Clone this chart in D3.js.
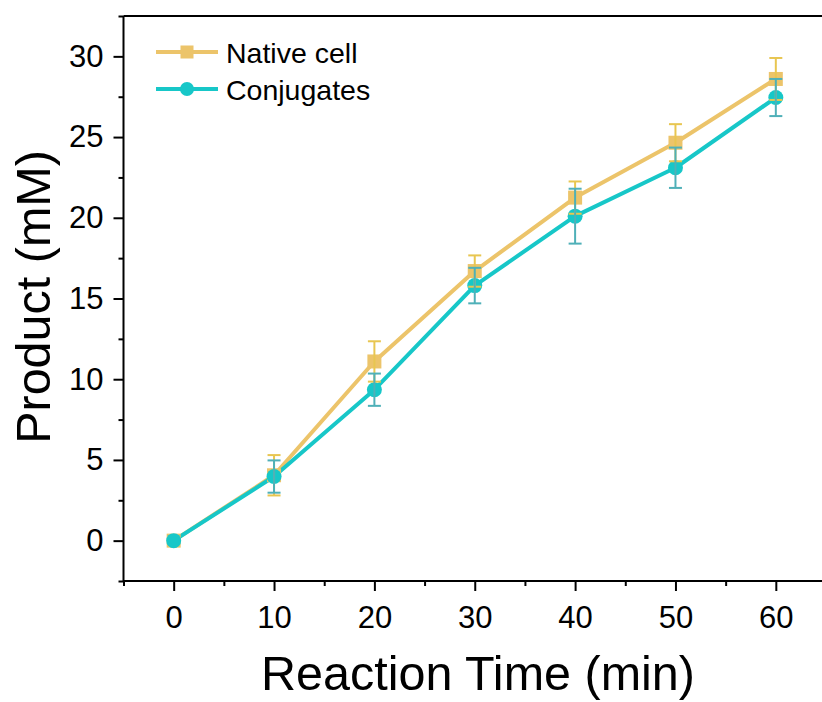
<!DOCTYPE html>
<html>
<head>
<meta charset="utf-8">
<script src="https://cdn.jsdelivr.net/npm/d3@7"></script>
<style>
  body { margin: 0; background: #fff; }
  svg { font-family: "Liberation Sans", Arial, sans-serif; }
</style>
</head>
<body>
<svg id="chart"></svg>
<script>
// data
const times = [0, 10, 20, 30, 40, 50, 60];
const nativeVals = [0, 4.05, 11.1, 16.7, 21.25, 24.65, 28.6];
const nativeErr = [0.2, 1.25, 1.25, 0.97, 1.0, 1.15, 1.3];
const conjVals = [0, 3.97, 9.35, 15.8, 20.1, 23.1, 27.45];
const conjErr = [0.1, 1.0, 1.0, 1.1, 1.7, 1.25, 1.15];
const xTicks = [0, 10, 20, 30, 40, 50, 60];
const yTicks = [0, 5, 10, 15, 20, 25, 30];
const seriesNames = ['Native cell', 'Conjugates'];

const width = 822, height = 702;
const margin = {left: 123.5, right: 826, top: 16, bottom: 581};

const svg = d3.select('#chart')
    .attr('width', width)
    .attr('height', height);

const x = d3.scaleLinear().domain([-5, 65]).range([margin.left, margin.right]);
const y = d3.scaleLinear().domain([-2.5, 32.5]).range([margin.bottom, margin.top]);

const series = [
  {name: seriesNames[0], vals: nativeVals, err: nativeErr, color: '#ecc46a', errColor: '#e8c651', shape: 'square'},
  {name: seriesNames[1], vals: conjVals, err: conjErr, color: '#17c7c8', errColor: '#4fb0b8', shape: 'circle'}
];

// top frame line
svg.append('line')
    .attr('x1', margin.left).attr('x2', width + 5)
    .attr('y1', margin.top).attr('y2', margin.top)
    .attr('stroke', '#000').attr('stroke-width', 2);

// axes
const xAxis = d3.axisBottom(x).tickValues(xTicks).tickSize(10).tickPadding(15).tickSizeOuter(0);
const xMinor = d3.axisBottom(x).tickValues([-5, 5, 15, 25, 35, 45, 55]).tickSize(5).tickFormat('').tickSizeOuter(0);
const yAxis = d3.axisLeft(y).tickValues(yTicks).tickSize(10).tickPadding(10).tickSizeOuter(0);
const yMinor = d3.axisLeft(y).tickValues([-2.5, 2.5, 7.5, 12.5, 17.5, 22.5, 27.5, 32.5]).tickSize(5).tickFormat('').tickSizeOuter(0);

const gx = svg.append('g').attr('transform', `translate(0,${margin.bottom})`).call(xAxis);
svg.append('g').attr('transform', `translate(0,${margin.bottom})`).call(xMinor).select('.domain').remove();
const gy = svg.append('g').attr('transform', `translate(${margin.left},0)`).call(yAxis);
svg.append('g').attr('transform', `translate(${margin.left},0)`).call(yMinor).select('.domain').remove();

gx.select('.domain').attr('d', `M${margin.left},0H${width + 5}`);
gy.select('.domain').attr('d', `M0,${margin.bottom}V${margin.top}`);

svg.selectAll('.domain').attr('stroke-width', 2);
svg.selectAll('.tick line').attr('stroke-width', 2);
svg.selectAll('.tick text')
    .attr('font-size', 31)
    .attr('fill', '#000')
    .attr('font-family', '"Liberation Sans", Arial, sans-serif');

// axis titles
svg.append('text')
    .attr('x', 478).attr('y', 690)
    .attr('text-anchor', 'middle')
    .attr('font-size', 48.5)
    .text('Reaction Time (min)');

svg.append('text')
    .attr('transform', `translate(50,297) rotate(-90)`)
    .attr('text-anchor', 'middle')
    .attr('font-size', 48.5)
    .text('Product (mM)');

// lines
const line = d3.line().x(d => x(d[0])).y(d => y(d[1]));
series.forEach(s => {
  svg.append('path')
      .datum(times.map((t, i) => [t, s.vals[i]]))
      .attr('d', line)
      .attr('fill', 'none')
      .attr('stroke', s.color)
      .attr('stroke-width', 4)
      .attr('stroke-linejoin', 'round');
});

// markers
function drawMarker(g, s, cx, cy, size) {
  if (s.shape === 'square') {
    g.append('rect')
        .attr('x', cx - size / 2).attr('y', cy - size / 2)
        .attr('width', size).attr('height', size)
        .attr('fill', s.color);
  } else {
    g.append('circle')
        .attr('cx', cx).attr('cy', cy).attr('r', size / 2 + 0.5)
        .attr('fill', s.color);
  }
}

series.forEach(s => {
  const g = svg.append('g');
  times.forEach((t, i) => drawMarker(g, s, x(t), y(s.vals[i]), 14));
});

// error bars on top
series.forEach(s => {
  const g = svg.append('g').attr('stroke', s.errColor).attr('stroke-width', 2);
  times.forEach((t, i) => {
    if (s.err[i] < 0.3) return;
    const cx = x(t), y0 = y(s.vals[i] - s.err[i]), y1 = y(s.vals[i] + s.err[i]);
    g.append('line').attr('x1', cx).attr('x2', cx).attr('y1', y0).attr('y2', y1);
    g.append('line').attr('x1', cx - 6.5).attr('x2', cx + 6.5).attr('y1', y0).attr('y2', y0);
    g.append('line').attr('x1', cx - 6.5).attr('x2', cx + 6.5).attr('y1', y1).attr('y2', y1);
  });
});

// legend
const legend = svg.append('g');
series.forEach((s, i) => {
  const ly = 52 + i * 37;
  legend.append('line')
      .attr('x1', 156).attr('x2', 218)
      .attr('y1', ly).attr('y2', ly)
      .attr('stroke', s.color).attr('stroke-width', 4);
  drawMarker(legend, s, 187, ly, 13);
  legend.append('text')
      .attr('x', 226).attr('y', ly + 11)
      .attr('font-size', 28.5)
      .text(s.name);
});
</script>
</body>
</html>
